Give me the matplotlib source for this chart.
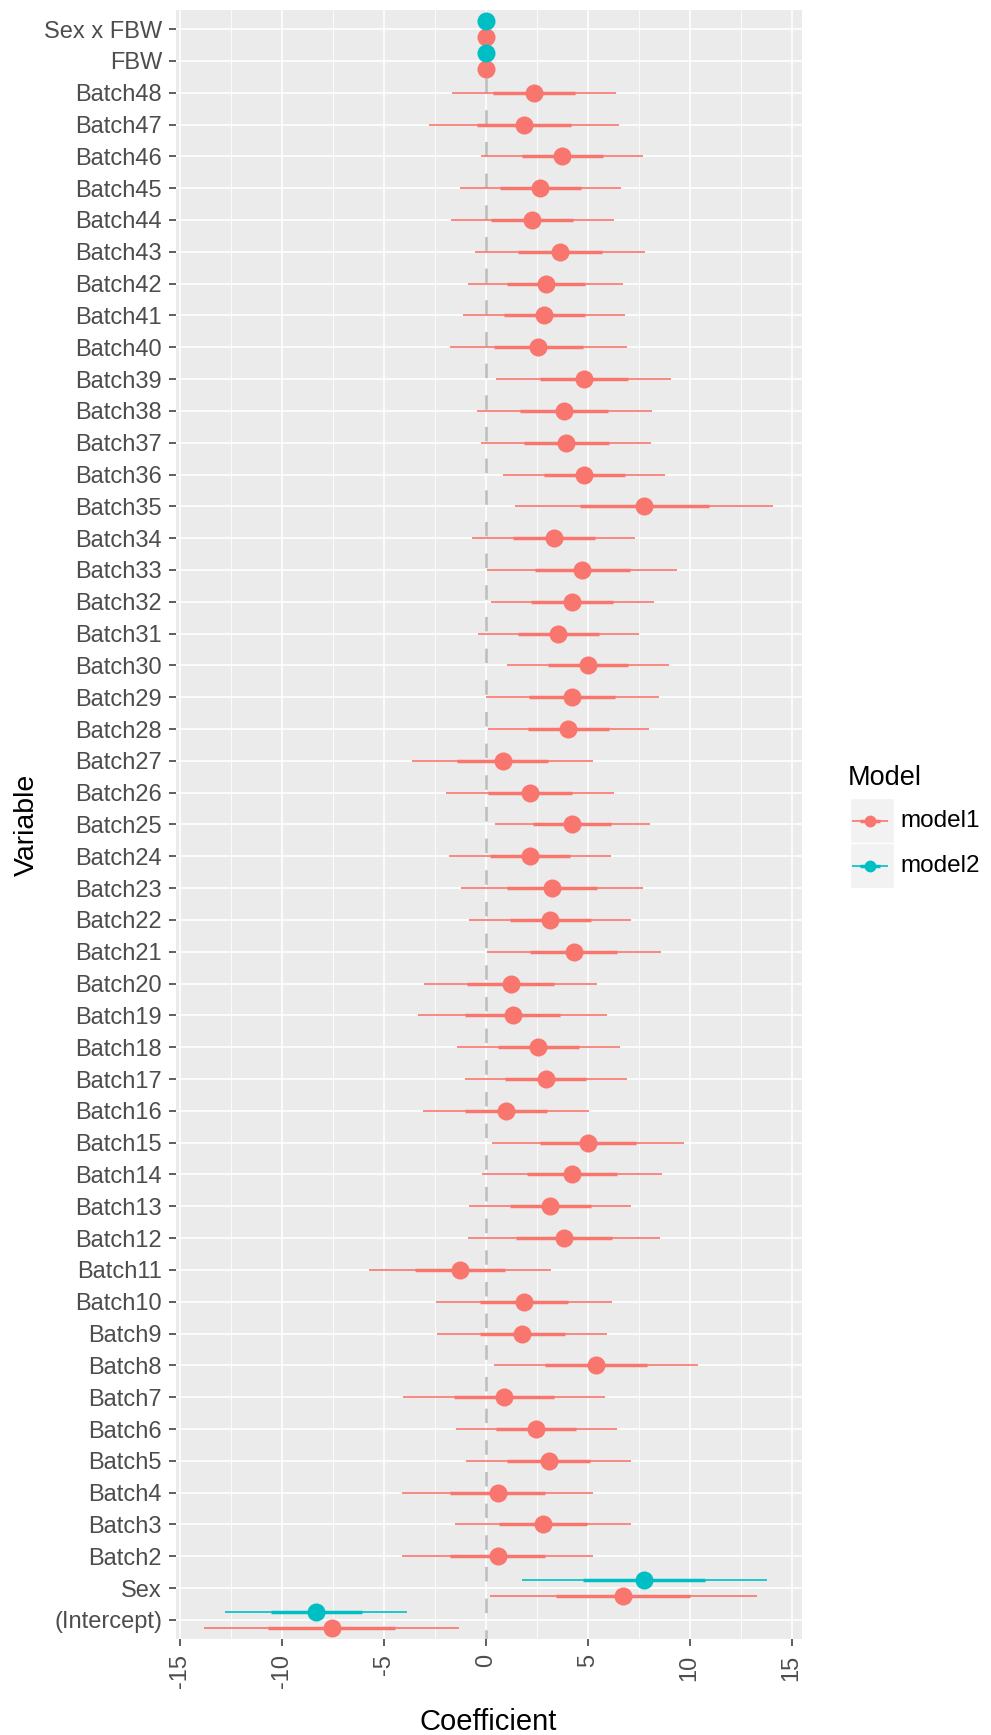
import matplotlib
matplotlib.use("Agg")
import matplotlib.pyplot as plt
from matplotlib.patches import Rectangle
import numpy as np

plt.rcParams["font.family"] = ["Liberation Sans", "DejaVu Sans"]
plt.rcParams["axes.unicode_minus"] = False

# terms, bottom to top
TERMS = (["(Intercept)", "Sex"] + [f"Batch{i}" for i in range(2, 49)]
         + ["FBW", "Sex x FBW"])

# model1: estimate and standard error for every term
M1_COEF = [-7.55, 6.74,
           0.59, 2.82, 0.59, 3.08, 2.48, 0.90, 5.43, 1.79, 1.88, -1.26,
           3.83, 3.16, 4.24, 5.02, 1.00, 2.95, 2.58, 1.32, 1.22, 4.32,
           3.16, 3.25, 2.17, 4.24, 2.17, 0.83, 4.05, 4.24, 5.02, 3.56,
           4.24, 4.73, 3.34, 7.77, 4.83, 3.95, 3.85, 4.81, 2.58, 2.87,
           2.95, 3.64, 2.28, 2.68, 3.75, 1.88, 2.37,
           0.0, 0.0]
M1_SE = [3.12, 3.27,
         2.34, 2.16, 2.34, 2.03, 1.97, 2.47, 2.50, 2.08, 2.15, 2.23,
         2.35, 1.98, 2.20, 2.35, 2.03, 1.98, 2.00, 2.32, 2.12, 2.13,
         1.98, 2.22, 1.98, 1.90, 2.07, 2.22, 1.98, 2.12, 1.98, 1.98,
         2.00, 2.33, 2.00, 3.16, 1.98, 2.08, 2.15, 2.15, 2.17, 1.98,
         1.90, 2.08, 2.00, 1.98, 1.98, 2.32, 2.00,
         0.005, 0.005]

# model2 only has the four non-batch terms
M2_TERMS = ["(Intercept)", "Sex", "FBW", "Sex x FBW"]
M2_COEF = [-8.30, 7.77, 0.0, 0.0]
M2_SE = [2.23, 3.00, 0.005, 0.005]

MODELS = ["model1", "model2"]
COLORS = {"model1": "#F8766D", "model2": "#00BFC4"}

W, H = 991, 1735


def px_rect(x0, y0, x1, y1):
    return [x0 / W, 1 - y1 / H, (x1 - x0) / W, (y1 - y0) / H]


fig = plt.figure(figsize=(W / 100, H / 100), dpi=100)
ax = fig.add_axes(px_rect(176, 10, 801.5, 1639))
ax.set_facecolor("#EBEBEB")
for s in ax.spines.values():
    s.set_visible(False)

pos = {t: i + 1 for i, t in enumerate(TERMS)}
dodge = 0.25


def draw_model(terms, coef, se, color, offsets):
    coef = np.asarray(coef)
    se = np.asarray(se)
    y = np.array([pos[t] + offsets.get(t, 0.0) for t in terms])
    ax.hlines(y, coef - 2 * se, coef + 2 * se, color=color, lw=1.2,
              zorder=2, capstyle="butt")
    ax.hlines(y, coef - se, coef + se, color=color, lw=2.5,
              zorder=2.1, capstyle="butt")
    ax.plot(coef, y, "o", ms=13, color=color, mec="none", zorder=3)


shared = set(M2_TERMS)
off1 = {t: -dodge for t in shared}
off2 = {t: dodge for t in shared}

ax.axvline(0, color="#BEBEBE", lw=1.9, ls=(2, (5.5, 6.5)), zorder=1)
draw_model(TERMS, M1_COEF, M1_SE, COLORS["model1"], off1)
draw_model(M2_TERMS, M2_COEF, M2_SE, COLORS["model2"], off2)

# x range: data span plus 5% either side
lo = min(np.min(np.subtract(M1_COEF, np.multiply(2, M1_SE))),
         np.min(np.subtract(M2_COEF, np.multiply(2, M2_SE))))
hi = max(np.max(np.add(M1_COEF, np.multiply(2, M1_SE))),
         np.max(np.add(M2_COEF, np.multiply(2, M2_SE))))
pad = 0.05 * (hi - lo)
ax.set_xlim(lo - pad, hi + pad)
ax.set_ylim(0.4, len(TERMS) + 0.6)

ax.set_xticks(np.arange(-15, 16, 5))
ax.set_xticks(np.arange(-12.5, 15, 5), minor=True)
ax.set_yticks(range(1, len(TERMS) + 1))
ax.set_yticklabels(TERMS)
ax.set_axisbelow(True)
ax.grid(which="major", color="white", lw=1.2)
ax.grid(which="minor", axis="x", color="white", lw=0.6)
ax.tick_params(axis="both", which="major", length=5, width=1.1,
               color="#333333", labelcolor="#4D4D4D", labelsize=17)
ax.tick_params(axis="y", pad=5)
ax.tick_params(axis="x", pad=6)
ax.tick_params(which="minor", length=0)
for lab in ax.get_xticklabels():
    lab.set_rotation(90)

fig.text(488.5 / W, 1 - 1722 / H, "Coefficient", ha="center", va="center",
         fontsize=21)
fig.text(27 / W, 1 - 824.5 / H, "Variable", rotation=90, ha="center",
         va="center", fontsize=20.5)

# legend drawn by hand in its own axes
fig.text(848 / W, 1 - 778 / H, "Model", ha="left", va="center", fontsize=19.5)
lax = fig.add_axes(px_rect(850, 798, 893.5, 888.5))
lax.set_xlim(0, 1)
lax.set_ylim(0, 2)
lax.axis("off")
for k, name in enumerate(MODELS):
    yc = 1.5 - k
    lax.add_patch(Rectangle((0, yc - 0.5), 1, 1, facecolor="#F2F2F2",
                            edgecolor="white", lw=1))
    c = COLORS[name]
    lax.plot([0.04, 0.88], [yc, yc], color=c, lw=1.2, solid_capstyle="butt")
    lax.plot([0.23, 0.69], [yc, yc], color=c, lw=2.5, solid_capstyle="butt")
    lax.plot([0.46], [yc], "o", ms=8.5, color=c, mec="none")
    fig.text(900.7 / W, 1 - (821 + 45 * k) / H, name, ha="left",
             va="center", fontsize=17.5)

fig.savefig("out.png", dpi=100)
